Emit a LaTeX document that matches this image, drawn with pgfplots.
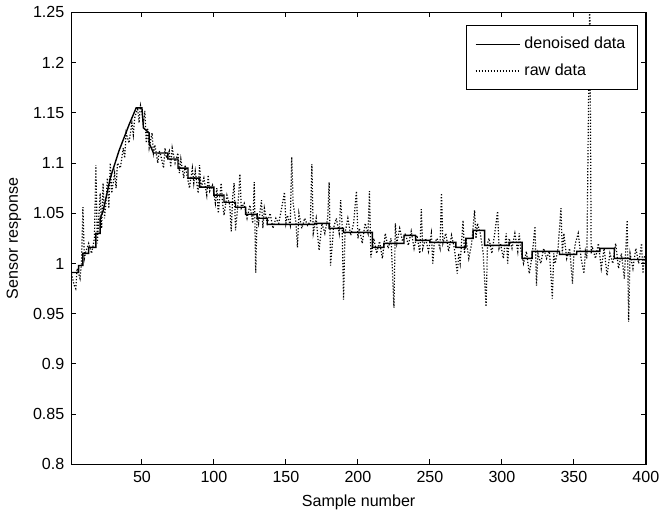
\documentclass[border=0pt]{standalone}
\usepackage{pgfplots}
\pgfplotsset{compat=1.18}
\usepackage{fontspec}
\setmainfont{Liberation Sans}
\begin{document}
\begin{tikzpicture}
\begin{axis}[
  scale only axis,
  width=286pt, height=225pt,
  xmin=1, xmax=400, ymin=0.8, ymax=1.25,
  xtick={50,100,150,200,250,300,350,400},
  ytick={0.8,0.85,0.9,0.95,1,1.05,1.1,1.15,1.2,1.25},
  yticklabels={0.8,0.85,0.9,0.95,1,1.05,1.1,1.15,1.2,1.25},
  tick align=inside,
  major tick length=2.5pt,
  axis line style={line width=0.8pt},
  every tick/.style={black, line width=0.5pt},
  /pgf/number format/assume math mode=true,
  tick label style={font=\fontsize{8}{9.6}\selectfont},
  label style={font=\fontsize{8}{9.6}\selectfont},
  xlabel={Sample number},
  ylabel={Sensor response},
  xlabel style={yshift=1pt},
  ylabel style={yshift=-1pt},
  legend style={at={(axis description cs:1,1)}, anchor=north east, xshift=-4pt, yshift=-6.5pt,
    draw=black, fill=white, font=\fontsize{8}{9.6}\selectfont, cells={anchor=west},
    inner xsep=4pt, inner ysep=3.5pt, row sep=2pt},
  legend image code/.code={\draw[#1] (0pt,0pt) -- (22pt,0pt);},
  clip=true,
]
\addplot[black, line width=0.7pt] coordinates {
(1,0.991)(6,0.991)(6,0.998)(9,0.998)(9,1.010)(13,1.010)(13,1.016)(18,1.016)(18,1.030)(21,1.030)(21,1.045)(23,1.052)
(28,1.085)(34,1.112)(41,1.138)(46,1.155)(50,1.155)(51,1.135)(55,1.130)(55,1.120)(58,1.110)(68,1.110)(68,1.104)(75,1.104)
(75,1.095)(82,1.095)(82,1.085)(90,1.085)(90,1.076)(100,1.076)(100,1.068)(107,1.068)(107,1.061)(115,1.061)(115,1.056)
(122,1.056)(122,1.049)(130,1.049)(130,1.045)(137,1.045)(137,1.039)(170,1.039)(170,1.040)(180,1.040)(180,1.035)(190,1.035)
(190,1.031)(210,1.031)(210,1.016)(218,1.016)(218,1.020)(232,1.020)(232,1.028)(240,1.028)(240,1.023)(250,1.023)(250,1.021)
(268,1.021)(268,1.016)(275,1.016)(275,1.025)(280,1.025)(280,1.033)(288,1.033)(288,1.018)(305,1.018)(305,1.021)(314,1.021)
(314,1.005)(321,1.005)(321,1.012)(340,1.012)(340,1.009)(352,1.009)(352,1.012)(368,1.012)(368,1.015)(378,1.015)(378,1.005)
(389,1.005)(389,1.004)(400,1.004)
};
\addlegendentry{denoised data}
\addplot[black, line width=0.6pt, dash pattern=on 0.6pt off 0.9pt] coordinates {
(1,0.990)(3,0.978)(4,0.975)(5,0.995)(7,0.985)(8,1.000)(9,1.056)(10,1.005)(11,1.012)(13,1.020)(15,1.010)(17,1.025)
(18,1.098)(19,1.020)(21,1.070)(22,1.035)(23,1.080)(24,1.045)(25,1.060)(26,1.085)(27,1.055)(28,1.100)(29,1.070)(31,1.090)
(32,1.075)(33,1.100)(35,1.095)(37,1.115)(38,1.105)(39,1.130)(41,1.120)(43,1.140)(44,1.128)(45,1.145)(47,1.155)(48,1.140)
(49,1.157)(50,1.150)(51,1.140)(52,1.152)(53,1.120)(54,1.135)(55,1.115)(57,1.130)(58,1.110)(59,1.118)(61,1.100)(62,1.112)
(63,1.108)(65,1.095)(66,1.115)(67,1.105)(69,1.112)(70,1.096)(71,1.115)(73,1.100)(75,1.110)(76,1.090)(77,1.104)(79,1.085)
(80,1.098)(81,1.090)(83,1.075)(85,1.095)(86,1.080)(87,1.092)(89,1.070)(90,1.098)(91,1.075)(93,1.085)(95,1.068)(96,1.088)
(97,1.072)(99,1.078)(101,1.060)(102,1.075)(103,1.050)(105,1.080)(106,1.060)(107,1.048)(109,1.068)(111,1.058)(112,1.032)
(113,1.066)(114,1.080)(115,1.033)(117,1.065)(118,1.089)(119,1.055)(121,1.060)(123,1.045)(125,1.058)(127,1.040)(128,1.081)
(129,0.991)(130,1.050)(131,1.040)(133,1.063)(134,1.035)(135,1.055)(137,1.040)(139,1.050)(141,1.035)(143,1.045)(145,1.040)
(147,1.055)(149,1.071)(150,1.040)(151,1.048)(153,1.038)(154,1.106)(155,1.060)(157,1.040)(158,1.016)(159,1.050)(161,1.035)
(163,1.045)(165,1.038)(167,1.042)(168,1.099)(169,1.030)(171,1.045)(173,1.013)(175,1.040)(177,1.030)(179,1.045)(180,1.081)
(181,0.998)(183,1.035)(185,1.045)(187,1.030)(188,1.063)(189,1.040)(190,0.964)(191,1.030)(193,1.045)(195,1.028)(197,1.040)
(199,1.072)(200,1.025)(201,1.035)(203,1.020)(205,1.040)(207,1.030)(208,1.072)(209,1.006)(211,1.025)(213,1.010)(215,1.022)
(217,1.005)(219,1.030)(221,1.015)(223,1.025)(225,0.956)(226,1.040)(227,1.020)(229,1.035)(231,1.022)(233,1.030)(235,1.018)
(237,1.032)(239,1.015)(241,1.028)(243,1.010)(244,1.054)(245,1.015)(247,1.025)(249,1.012)(251,1.030)(252,1.000)(253,1.020)
(255,1.025)(257,1.015)(258,1.070)(259,1.020)(261,1.030)(263,1.012)(265,1.028)(267,1.015)(269,0.990)(270,1.010)(271,1.000)
(273,1.043)(274,1.010)(275,1.025)(277,1.005)(279,1.020)(281,1.053)(282,1.025)(283,1.040)(285,1.030)(287,1.010)(289,0.957)
(290,1.020)(291,1.025)(293,1.010)(295,1.030)(297,1.052)(298,1.015)(299,1.020)(301,1.005)(303,1.030)(304,1.000)(305,1.025)
(307,1.015)(309,1.030)(311,1.012)(312,1.030)(313,1.015)(315,1.000)(317,1.012)(319,0.990)(321,1.008)(323,1.037)(324,0.978)
(325,1.010)(327,1.000)(329,1.015)(331,1.005)(333,1.012)(335,0.965)(336,1.010)(337,1.000)(339,1.015)(341,1.055)(342,1.010)
(343,1.030)(345,1.005)(347,1.015)(349,0.980)(350,1.010)(351,1.020)(353,1.030)(355,1.005)(357,0.990)(358,1.012)(359,1.005)
(361,1.270)(362,1.010)(363,1.015)(365,1.005)(367,1.020)(369,0.995)(371,1.015)(373,0.988)(375,1.010)(377,1.000)(379,1.020)
(381,0.995)(383,1.010)(385,0.985)(387,1.043)(388,0.942)(389,1.010)(391,0.995)(393,1.015)(395,1.000)(397,1.020)(398,0.990)
(399,1.008)(400,1.000)
};
\addlegendentry{raw data}
\end{axis}
\end{tikzpicture}
\end{document}
